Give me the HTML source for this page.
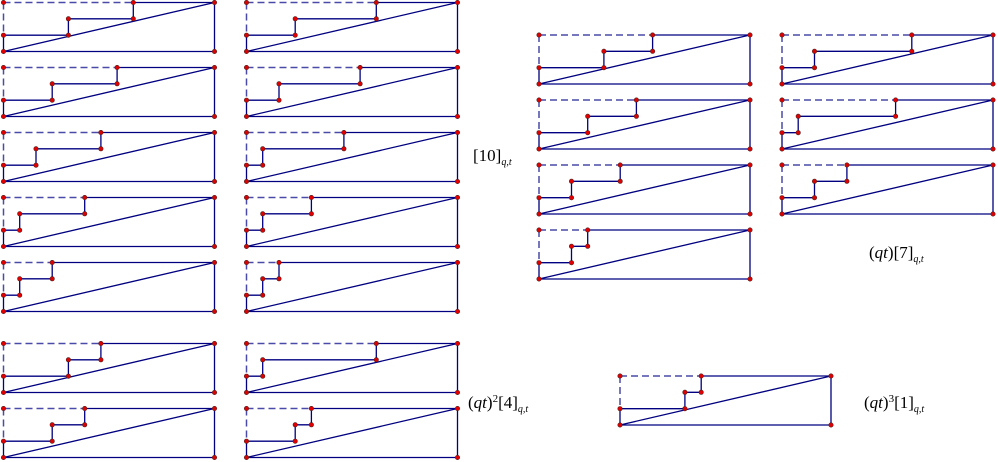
<!DOCTYPE html>
<html><head><meta charset="utf-8"><style>
html,body{margin:0;padding:0;background:#fff;}
body{width:998px;height:462px;position:relative;overflow:hidden;}
svg{position:absolute;left:0;top:0;}
.lbl{position:absolute;font-family:"Liberation Serif",serif;font-size:17px;color:#000;white-space:nowrap;}
.lbl sub{font-size:10px;font-style:italic;vertical-align:-4px;}
.lbl sup{font-size:11px;vertical-align:6px;}
</style></head><body>
<svg id="s" width="998" height="462" xmlns="http://www.w3.org/2000/svg"></svg>
<div class="lbl" style="left:473px;top:146px;">[10]<sub>q,t</sub></div>
<div class="lbl" style="left:468px;top:393px;">(<i>qt</i>)<sup>2</sup>[4]<sub>q,t</sub></div>
<div class="lbl" style="left:869px;top:243px;">(<i>qt</i>)[7]<sub>q,t</sub></div>
<div class="lbl" style="left:864px;top:393px;">(<i>qt</i>)<sup>3</sup>[1]<sub>q,t</sub></div>
<script>
var boxes=[
[3.5,2.5,4,8],[3.5,67.5,3,7],[3.5,132.5,2,6],[3.5,197.5,1,5],[3.5,262.5,1,3],
[246.5,2.5,3,8],[246.5,67.5,2,7],[246.5,132.5,1,6],[246.5,197.5,1,4],[246.5,262.5,1,2],
[3.5,343.5,4,6],[3.5,408.5,3,5],[246.5,343.5,1,8],[246.5,408.5,3,4],
[539,35,4,7],[539,100,3,6],[539,165,2,5],[539,230,2,3],
[782,35,2,8],[782,100,1,7],[782,165,2,4],
[620,376,4,5]];
var W=211,H=49,ux=W/13,uy=H/3,out='';
boxes.forEach(function(b){
 var x0=b[0],y0=b[1],a=b[2],c=b[3];
 function X(i){return (x0+i*ux).toFixed(1);}
 function Y(j){return (y0+H-j*uy).toFixed(1);}
 var sd='stroke="#000080" stroke-width="1.3" fill="none"';
 var dd='stroke="#4a4aa8" stroke-width="1.5" stroke-dasharray="7,4" fill="none"';
 out+='<line x1="'+X(0)+'" y1="'+Y(3)+'" x2="'+X(c)+'" y2="'+Y(3)+'" '+dd+'/>';
 out+='<line x1="'+X(0)+'" y1="'+Y(3)+'" x2="'+X(0)+'" y2="'+Y(1)+'" '+dd+'/>';
 out+='<polyline points="'+X(c)+','+Y(3)+' '+X(13)+','+Y(3)+' '+X(13)+','+Y(0)+' '+X(0)+','+Y(0)+'" '+sd+'/>';
 out+='<line x1="'+X(0)+'" y1="'+Y(0)+'" x2="'+X(13)+'" y2="'+Y(3)+'" '+sd+'/>';
 out+='<polyline points="'+X(0)+','+Y(0)+' '+X(0)+','+Y(1)+' '+X(a)+','+Y(1)+' '+X(a)+','+Y(2)+' '+X(c)+','+Y(2)+' '+X(c)+','+Y(3)+'" '+sd+'/>';
 [[0,0],[0,1],[a,1],[a,2],[c,2],[c,3],[0,3],[13,3],[13,0]].forEach(function(p){
  out+='<circle cx="'+X(p[0])+'" cy="'+Y(p[1])+'" r="2.2" fill="#e00000" stroke="#502020" stroke-width="0.6"/>';
 });
});
document.getElementById('s').innerHTML=out;
</script>
</body></html>
